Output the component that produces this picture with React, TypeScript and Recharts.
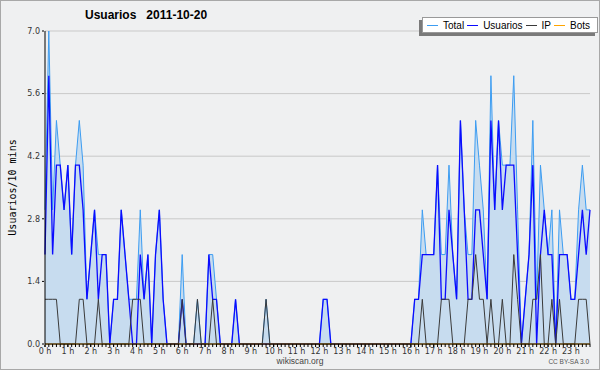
import React from 'react';
import { ComposedChart, Area, Line, XAxis, YAxis, CartesianGrid, Legend } from 'recharts';

// one value per 10 minutes, 0:00 .. 23:50
const total = [
  3, 7, 3, 5, 4, 3, 4, 2, 4, 5, 4, 1, 2, 3, 2, 2, 2, 0, 1, 1, 3, 2, 1, 1,
  1, 3, 1, 2, 0, 2, 3, 1, 0, 0, 0, 0, 2, 0, 0, 0, 1, 0, 0, 2, 2, 1, 0, 0,
  0, 0, 1, 0, 0, 0, 0, 0, 0, 0, 1, 0, 0, 0, 0, 0, 0, 0, 0, 0, 0, 0, 0, 0,
  0, 1, 1, 0, 0, 0, 0, 0, 0, 0, 0, 0, 0, 0, 0, 0, 0, 0, 0, 0, 0, 0, 0, 0,
  0, 1, 1, 3, 2, 2, 2, 4, 2, 2, 4, 2, 1, 5, 3, 2, 2, 5, 4, 3, 1, 6, 3, 5,
  4, 4, 4, 6, 3, 0, 1, 2, 5, 1, 4, 3, 2, 3, 0, 3, 2, 2, 1, 1, 3, 4, 3, 3,
];

const usuarios = [
  2, 6, 2, 4, 4, 3, 4, 2, 4, 4, 3, 1, 2, 3, 1, 2, 2, 0, 1, 1, 3, 2, 1, 0,
  0, 2, 1, 2, 0, 2, 3, 1, 0, 0, 0, 0, 1, 0, 0, 0, 0, 0, 0, 2, 1, 1, 0, 0,
  0, 0, 1, 0, 0, 0, 0, 0, 0, 0, 0, 0, 0, 0, 0, 0, 0, 0, 0, 0, 0, 0, 0, 0,
  0, 1, 1, 0, 0, 0, 0, 0, 0, 0, 0, 0, 0, 0, 0, 0, 0, 0, 0, 0, 0, 0, 0, 0,
  0, 1, 1, 2, 2, 2, 2, 4, 1, 1, 3, 2, 1, 5, 3, 1, 1, 3, 3, 2, 1, 5, 3, 5,
  3, 4, 4, 4, 2, 0, 1, 2, 4, 0, 2, 3, 2, 2, 0, 2, 2, 2, 1, 1, 2, 3, 2, 3,
];

const ip = [
  1, 1, 1, 1, 0, 0, 0, 0, 0, 1, 1, 0, 0, 0, 1, 0, 0, 0, 0, 0, 0, 0, 0, 1,
  1, 1, 0, 0, 0, 0, 0, 0, 0, 0, 0, 0, 1, 0, 0, 0, 1, 0, 0, 0, 1, 0, 0, 0,
  0, 0, 0, 0, 0, 0, 0, 0, 0, 0, 1, 0, 0, 0, 0, 0, 0, 0, 0, 0, 0, 0, 0, 0,
  0, 0, 0, 0, 0, 0, 0, 0, 0, 0, 0, 0, 0, 0, 0, 0, 0, 0, 0, 0, 0, 0, 0, 0,
  0, 0, 0, 1, 0, 0, 0, 0, 1, 1, 1, 0, 0, 0, 0, 1, 1, 2, 1, 1, 0, 1, 0, 0,
  1, 0, 0, 2, 1, 0, 0, 0, 1, 1, 2, 0, 0, 1, 0, 1, 0, 0, 0, 0, 1, 1, 1, 0,
];

const bots = [
  0, 0, 0, 0, 0, 0, 0, 0, 0, 0, 0, 0, 0, 0, 0, 0, 0, 0, 0, 0, 0, 0, 0, 0,
  0, 0, 0, 0, 0, 0, 0, 0, 0, 0, 0, 0, 0, 0, 0, 0, 0, 0, 0, 0, 0, 0, 0, 0,
  0, 0, 0, 0, 0, 0, 0, 0, 0, 0, 0, 0, 0, 0, 0, 0, 0, 0, 0, 0, 0, 0, 0, 0,
  0, 0, 0, 0, 0, 0, 0, 0, 0, 0, 0, 0, 0, 0, 0, 0, 0, 0, 0, 0, 0, 0, 0, 0,
  0, 0, 0, 0, 0, 0, 0, 0, 0, 0, 0, 0, 0, 0, 0, 0, 0, 0, 0, 0, 0, 0, 0, 0,
  0, 0, 0, 0, 0, 0, 0, 0, 0, 0, 0, 0, 0, 0, 0, 0, 0, 0, 0, 0, 0, 0, 0, 0,
];

const seriesNames = ['Total', 'Usuarios', 'IP', 'Bots'];
const seriesColors: Record<string, string> = {
  Total: '#3d9df2',
  Usuarios: '#0b0bff',
  IP: '#3a3a3a',
  Bots: '#ffa500',
};

const hourLabels = [
  '0 h', '1 h', '2 h', '3 h', '4 h', '5 h', '6 h', '7 h', '8 h', '9 h', '10 h', '11 h',
  '12 h', '13 h', '14 h', '15 h', '16 h', '17 h', '18 h', '19 h', '20 h', '21 h', '22 h', '23 h',
];

const yTicks = [0, 1.4, 2.8, 4.2, 5.6, 7];

const data = total.map((t, i) => ({
  i,
  total: t,
  usuarios: usuarios[i],
  ip: ip[i],
  bots: bots[i],
}));

const hourTicks = hourLabels.map((_, h) => h * 6);
const slotTicks = total.map((_, i) => i);
const yMinorTicks = Array.from({ length: 21 }, (_, k) => +(k * 0.35).toFixed(2));

const tickFont = { fontFamily: 'DejaVu Sans', fontSize: 8, fill: '#333' };
const noLabel = () => <g />;

function LegendBox({ payload }: any) {
  const items = [...(payload || [])].sort(
    (a: any, b: any) => seriesNames.indexOf(a.value) - seriesNames.indexOf(b.value)
  );
  return (
    <div
      style={{
        display: 'flex',
        alignItems: 'center',
        background: '#fff',
        border: '1px solid #999',
        boxShadow: '-3px 3px 0 #7a7a7a',
        height: 14,
        padding: '0 4px',
        fontFamily: 'Liberation Sans',
        fontSize: 10,
        color: '#000',
        whiteSpace: 'nowrap',
      }}
    >
      {items.map((p: any) => (
        <span key={p.value} style={{ display: 'flex', alignItems: 'center', marginRight: 3 }}>
          <span
            style={{ width: 11, height: 1, background: seriesColors[p.value] || p.color, marginRight: 5 }}
          />
          {p.value}
        </span>
      ))}
    </div>
  );
}

export default function App() {
  return (
    <div
      style={{
        position: 'relative',
        width: 600,
        height: 370,
        background: '#eff0f1',
        boxShadow: 'inset 0 0 0 1px #a8a8a8',
      }}
    >
      <style>{'body{margin:0}'}</style>
      <div
        style={{
          position: 'absolute',
          left: 85,
          top: 8,
          fontFamily: 'Liberation Sans',
          fontWeight: 'bold',
          fontSize: 12,
          whiteSpace: 'pre',
        }}
      >
        {'Usuarios   2011-10-20'}
      </div>
      <ComposedChart
        width={600}
        height={370}
        data={data}
        margin={{ top: 31, right: 10, left: 8, bottom: 6 }}
      >
        {/* ids "xa"/"ya" sort first, so these thin axes sit right against the plot */}
        <XAxis
          xAxisId="xa"
          dataKey="i"
          type="number"
          domain={[0, 143]}
          ticks={slotTicks}
          interval={0}
          tick={noLabel}
          tickSize={3}
          height={1}
          stroke="#000"
        />
        <XAxis
          xAxisId="xb"
          dataKey="i"
          type="number"
          domain={[0, 143]}
          ticks={hourTicks}
          interval={0}
          tickFormatter={(v) => hourLabels[v / 6]}
          tick={tickFont}
          axisLine={false}
          tickSize={2}
          tickMargin={1}
          height={19}
          stroke="#000"
        />
        <YAxis
          yAxisId="ya"
          domain={[0, 7]}
          ticks={yMinorTicks}
          interval={0}
          tick={noLabel}
          tickSize={3}
          width={1}
          stroke="#000"
        />
        <YAxis
          yAxisId="yb"
          domain={[0, 7]}
          ticks={yTicks}
          interval={0}
          tickFormatter={(v) => v.toFixed(1)}
          tick={tickFont}
          axisLine={false}
          tickSize={2}
          tickMargin={2}
          width={36}
          stroke="#000"
          label={{
            value: 'Usuarios/10 mins',
            angle: -90,
            position: 'insideLeft',
            offset: 4,
            style: { textAnchor: 'middle', fontFamily: 'DejaVu Sans Mono', fontSize: 10, fill: '#000' },
          }}
        />
        <CartesianGrid xAxisId="xb" yAxisId="yb" vertical={false} stroke="#c9c9c9" />
        <Area
          xAxisId="xb"
          yAxisId="yb"
          type="linear"
          dataKey="total"
          name="Total"
          stroke={seriesColors.Total}
          strokeWidth={1}
          fill="#c7dcef"
          fillOpacity={1}
          dot={false}
          activeDot={false}
          isAnimationActive={false}
        />
        <Line
          xAxisId="xb"
          yAxisId="yb"
          type="linear"
          dataKey="usuarios"
          name="Usuarios"
          stroke={seriesColors.Usuarios}
          strokeWidth={1.3}
          dot={false}
          activeDot={false}
          isAnimationActive={false}
        />
        <Line
          xAxisId="xb"
          yAxisId="yb"
          type="linear"
          dataKey="ip"
          name="IP"
          stroke={seriesColors.IP}
          strokeWidth={1}
          dot={false}
          activeDot={false}
          isAnimationActive={false}
        />
        <Line
          xAxisId="xb"
          yAxisId="yb"
          type="linear"
          dataKey="bots"
          name="Bots"
          stroke={seriesColors.Bots}
          strokeWidth={1}
          dot={false}
          activeDot={false}
          isAnimationActive={false}
        />
        <Legend
          layout="vertical"
          align="center"
          verticalAlign="middle"
          content={<LegendBox />}
          wrapperStyle={{ top: 17, left: 422, width: 'auto', height: 'auto' }}
        />
      </ComposedChart>
      <div
        style={{
          position: 'absolute',
          left: 0,
          width: 600,
          top: 356,
          textAlign: 'center',
          fontFamily: 'Liberation Sans',
          fontSize: 8.5,
          color: '#444',
        }}
      >
        wikiscan.org
      </div>
      <div
        style={{
          position: 'absolute',
          right: 11,
          top: 358,
          fontFamily: 'Liberation Sans',
          fontSize: 6.5,
          color: '#555',
        }}
      >
        CC BY-SA 3.0
      </div>
    </div>
  );
}
